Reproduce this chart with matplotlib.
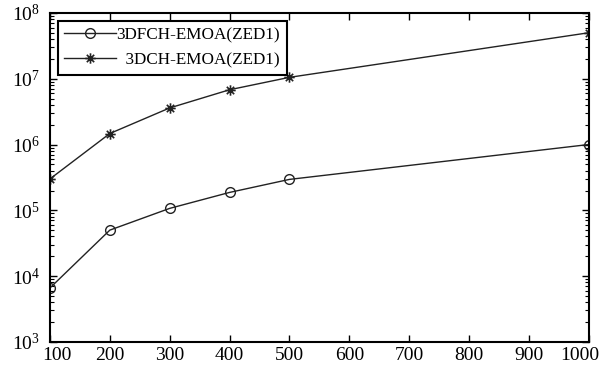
import numpy as np
import matplotlib.pyplot as plt
import matplotlib.transforms as mtransforms
from matplotlib.path import Path
from matplotlib.ticker import FixedLocator, LogLocator, FuncFormatter, NullFormatter

plt.rcParams['font.family'] = ['Liberation Serif', 'DejaVu Serif']
plt.rcParams['mathtext.fontset'] = 'custom'
plt.rcParams['mathtext.rm'] = 'Liberation Serif'

# population sizes and running cost of each algorithm
sizes = [100, 200, 300, 400, 500, 1000]
fch_cost = [6.6e3, 5.0e4, 1.07e5, 1.87e5, 2.95e5, 1.0e6]
ch_cost = [3.0e5, 1.47e6, 3.6e6, 6.8e6, 1.05e7, 5.0e7]
labels = ['3DFCH-EMOA(ZED1)', '  3DCH-EMOA(ZED1)']
xticks = list(range(100, 1001, 100))

# asterisk marker: a plus and a cross drawn as open strokes
d = 0.7071
asterisk = Path(
    [(-1, 0), (1, 0), (0, -1), (0, 1), (-d, -d), (d, d), (-d, d), (d, -d)],
    [Path.MOVETO, Path.LINETO] * 4)

fig = plt.figure(figsize=(6.02, 3.70), dpi=100)
ax = fig.add_axes([0.083, 0.076, 0.895, 0.889])

ax.plot(sizes, fch_cost, color='#222222', lw=1.0, marker='o', ms=7,
        mfc='none', mec='#222222', mew=1.0, label=labels[0])
ax.plot(sizes, ch_cost, color='#222222', lw=1.0, marker=asterisk, ms=7.5,
        mfc='none', mec='#222222', mew=1.2, label=labels[1])

ax.set_yscale('log')
ax.set_xlim(100, 1000)
ax.set_ylim(1e3, 1e8)
ax.xaxis.set_major_locator(FixedLocator(xticks))
ax.yaxis.set_major_locator(LogLocator(base=10, numticks=10))
ax.yaxis.set_minor_locator(LogLocator(base=10, subs=np.arange(2, 10), numticks=10))
ax.yaxis.set_minor_formatter(NullFormatter())
ax.yaxis.set_major_formatter(FuncFormatter(lambda v, p: r'$\mathregular{10^{%d}}$' % round(np.log10(v))))

ax.tick_params(which='both', direction='in', top=True, right=True, labelsize=14)
ax.tick_params(axis='y', pad=7)
ax.tick_params(axis='x', pad=4)
ax.tick_params(which='major', length=5, width=1.0)
ax.tick_params(which='minor', length=3, width=0.8)
for s in ax.spines.values():
    s.set_linewidth(1.5)

# keep the end labels inside the figure
fig.canvas.draw()
xlabels = ax.get_xticklabels()
xlabels[0].set_transform(xlabels[0].get_transform() +
                         mtransforms.ScaledTranslation(7 / 100, 0, fig.dpi_scale_trans))
xlabels[-1].set_transform(xlabels[-1].get_transform() +
                          mtransforms.ScaledTranslation(-9 / 100, 0, fig.dpi_scale_trans))

leg = ax.legend(loc='upper left', fontsize=12.3, handlelength=3.0, handletextpad=0.05,
                borderpad=0.4, labelspacing=0.5, fancybox=False, framealpha=1,
                edgecolor='black', bbox_to_anchor=(0.0, 1.0), borderaxespad=0.45)
leg.get_frame().set_linewidth(1.5)

fig.savefig('out.png', dpi=100)
